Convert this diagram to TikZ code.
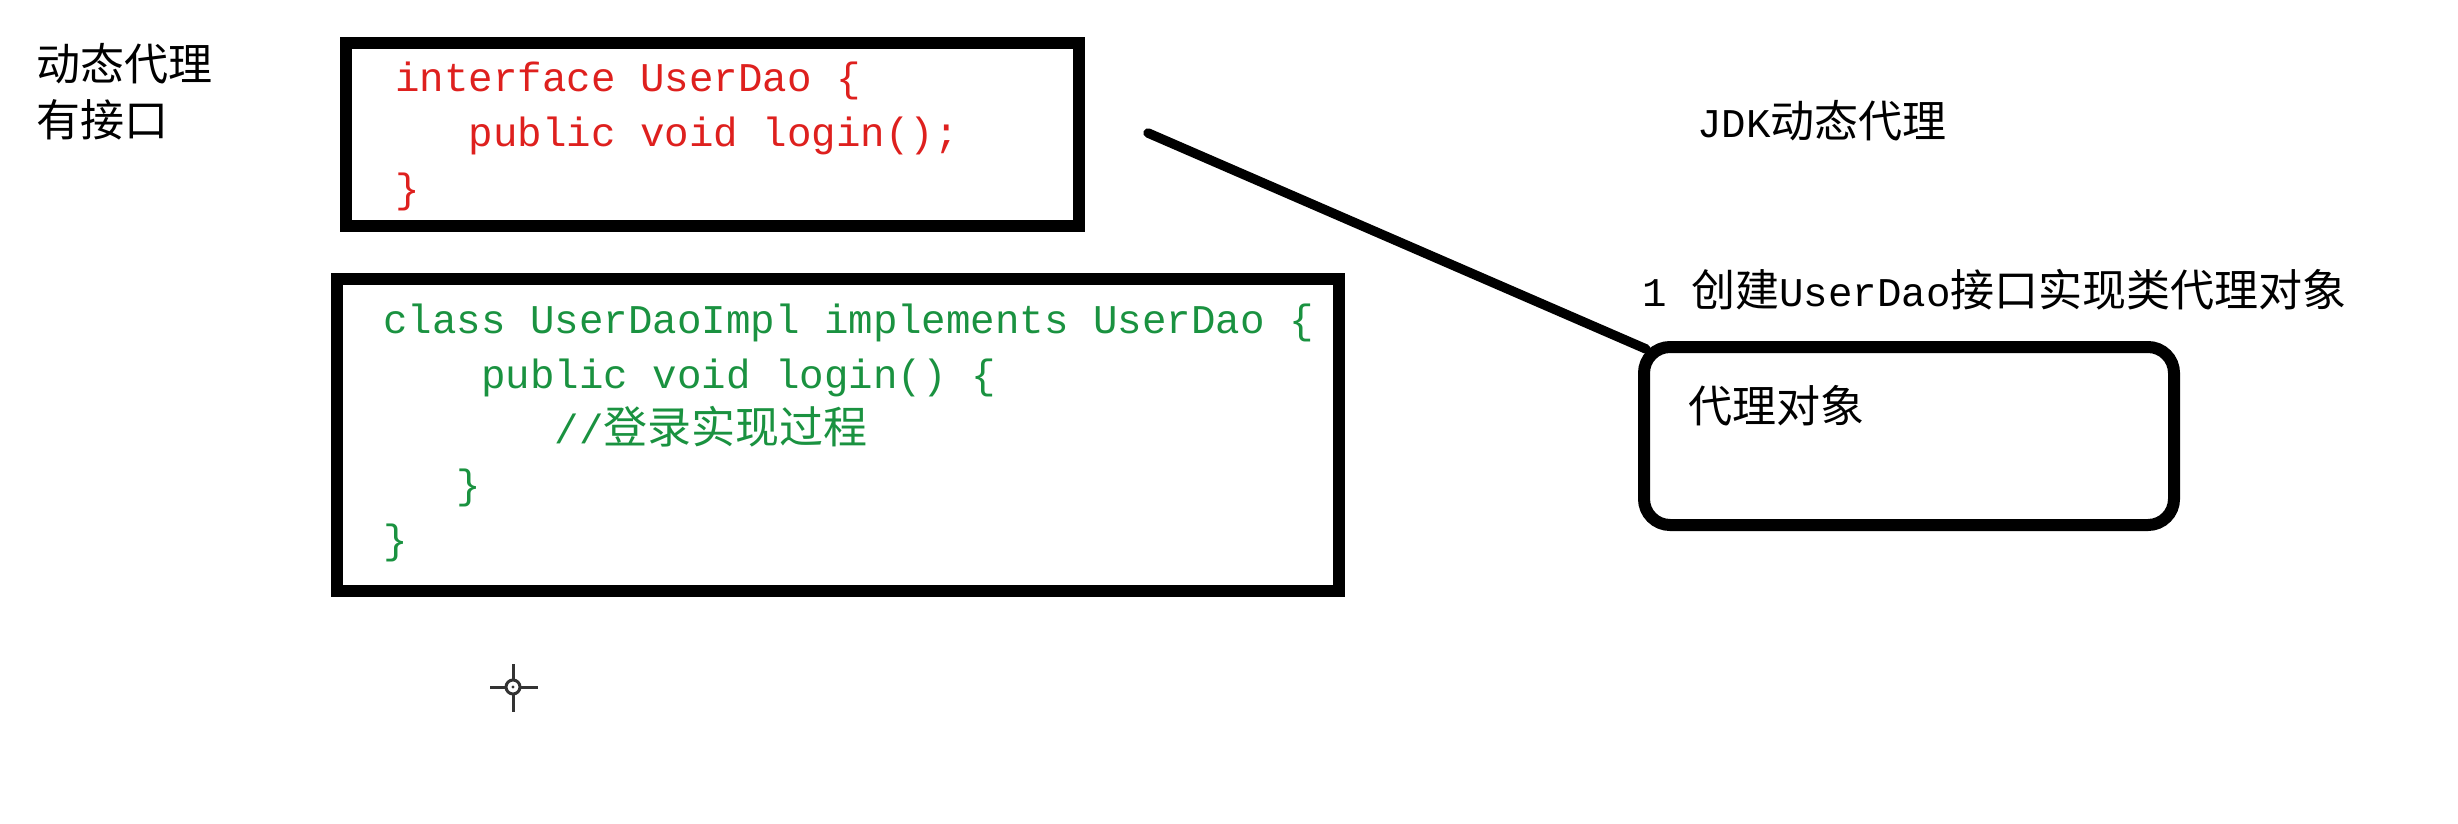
\documentclass[tikz,border=0pt]{standalone}
\usepackage{fontspec}
\usepackage{tikz}
\usetikzlibrary{calc}
\newfontfamily\codefont{Liberation Mono}
\newfontfamily\cjkfont{Noto Sans CJK SC}
\newcommand\zh[1]{{\cjkfont\fontsize{22}{26}\selectfont #1}}
\newcommand\asc[1]{{\codefont\fontsize{20.4}{24}\selectfont #1}}
\definecolor{codered}{RGB}{222,32,30}
\definecolor{codegreen}{RGB}{26,146,64}
\tikzset{
  frame/.style={draw, rectangle, line width=6pt, inner sep=0pt},
  code/.style={anchor=base west, inner sep=0pt, font=\codefont\fontsize{20.4}{24}\selectfont},
  note/.style={anchor=base west, inner sep=0pt, font=\cjkfont\fontsize{22}{26}\selectfont},
  link/.style={line width=4.75pt, line cap=round},
}

\begin{document}
\begin{tikzpicture}[x=0.5pt, y=-0.5pt]
    \useasboundingbox (0,0) rectangle (2458,824);
    \node[note] (dyn) at (36,81) {动态代理};
    \node[note] (hasif) at (36,137) {有接口};
    % interface
    \node[frame, minimum width=366.5pt, minimum height=91.5pt] (iface) at (712.5,134.5) {};
    \node[code, codered] (if1) at (395,92) {interface UserDao \{};
    \node[code, codered] (if2) at (468.5,147) {public void login();};
    \node[code, codered] (if3) at (395,202) {\}};
    % impl
    \node[frame, minimum width=501pt, minimum height=156pt] (impl) at (838,435) {};
    \node[code, codegreen] (im1) at (383,333) {class UserDaoImpl implements UserDao \{};
    \node[code, codegreen] (im2) at (481,388) {public void login() \{};
    \node[code, codegreen] (im3) at (554.5,443) {//\zh{登录实现过程}};
    \node[code, codegreen] (im4) at (456.5,498) {\}};
    \node[code, codegreen] (im5) at (383,553) {\}};
    % proxy
    \node[note] (jdk) at (1697,138) {\asc{JDK}动态代理};
    \node[note] (step1) at (1642,306) {\asc{1 }创建\asc{UserDao}接口实现类代理对象};
    \node[frame, rounded corners=13pt, minimum width=265pt, minimum height=89pt] (proxy) at (1909,436) {};
    \node[note] (pobj) at (1688,422) {代理对象};
    \coordinate (tail) at (1148,133);
    \draw[link] (tail) -- ($(proxy.north west)+(8,8)$);
    % cursor
    \draw[black!80, line width=1.5pt] (490,687) -- (506,687) (520,687) -- (538,687)
        (513,664) -- (513,680) (513,694) -- (513,712);
    \draw[black!80, line width=1.5pt] (513,687) circle (3.5pt);
    \fill[black!80] (513,687) circle (0.8pt);
\end{tikzpicture}
\end{document}
